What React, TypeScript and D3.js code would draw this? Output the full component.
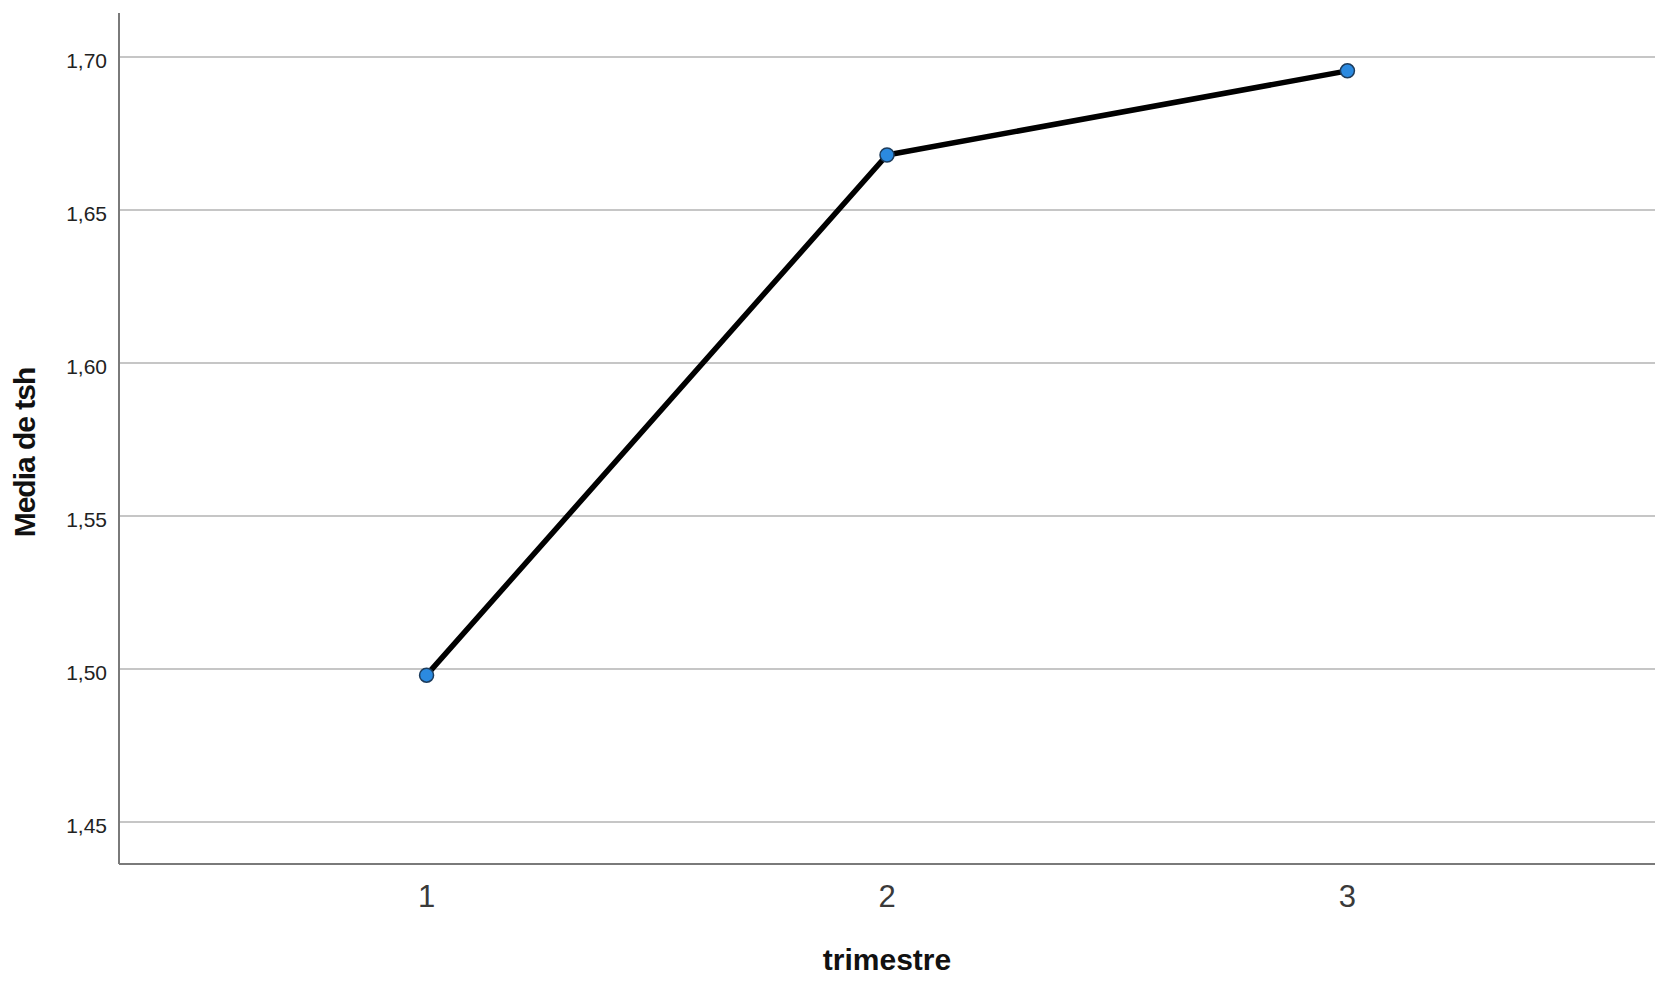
import React from "react";
import * as d3 from "d3";

const categories = ["1", "2", "3"];
const values = [1.498, 1.668, 1.6955];
const yTicks = [1.45, 1.5, 1.55, 1.6, 1.65, 1.7];
const xTitle = "trimestre";
const yTitle = "Media de tsh";

const W = 1675;
const H = 981;
const left = 119;
const right = 1655;
const top = 13;
const bottom = 864;

export default function App() {
  const x = d3.scalePoint<string>().domain(categories).range([left, right]).padding(0.668);
  const y = d3.scaleLinear().domain([1.4363, 1.7144]).range([bottom, top]);
  const fmt = (v: number) => v.toFixed(2).replace(".", ",");
  const line = d3
    .line<number>()
    .x((_, i) => x(categories[i]) as number)
    .y((d) => y(d));

  return (
    <svg
      width={W}
      height={H}
      style={{ position: "absolute", left: 0, top: 0, background: "#fff" }}
      fontFamily="'Liberation Sans', Arial, sans-serif"
    >
      <rect x={0} y={0} width={W} height={H} fill="#fff" />
      {yTicks.map((t) => (
        <g key={t}>
          <line x1={left} x2={right} y1={y(t)} y2={y(t)} stroke="#c6c6c6" strokeWidth={2} />
          <text x={107} y={y(t) + 3.5} textAnchor="end" dominantBaseline="central" fontSize={21} fill="#222">
            {fmt(t)}
          </text>
        </g>
      ))}
      <line x1={left} x2={left} y1={top} y2={bottom} stroke="#7a7a7a" strokeWidth={2} />
      <line x1={left} x2={right} y1={bottom} y2={bottom} stroke="#7a7a7a" strokeWidth={2} />
      {categories.map((c) => (
        <text key={c} x={x(c)} y={896} textAnchor="middle" dominantBaseline="central" fontSize={31} fill="#3a3a3a">
          {c}
        </text>
      ))}
      <path d={line(values) || ""} fill="none" stroke="#000" strokeWidth={5.5} strokeLinejoin="round" />
      {values.map((v, i) => (
        <circle key={i} cx={x(categories[i])} cy={y(v)} r={7} fill="#2b8ae0" stroke="#1d3c5c" strokeWidth={1.5} />
      ))}
      <text x={(left + right) / 2} y={959} textAnchor="middle" dominantBaseline="central" fontSize={30} fontWeight="bold" fill="#111">
        {xTitle}
      </text>
      <text
        transform={`translate(24,${(365 + 540) / 2}) rotate(-90)`}
        textAnchor="middle"
        dominantBaseline="central"
        fontSize={30}
        fontWeight="bold"
        letterSpacing={-1}
        fill="#111"
      >
        {yTitle}
      </text>
    </svg>
  );
}
